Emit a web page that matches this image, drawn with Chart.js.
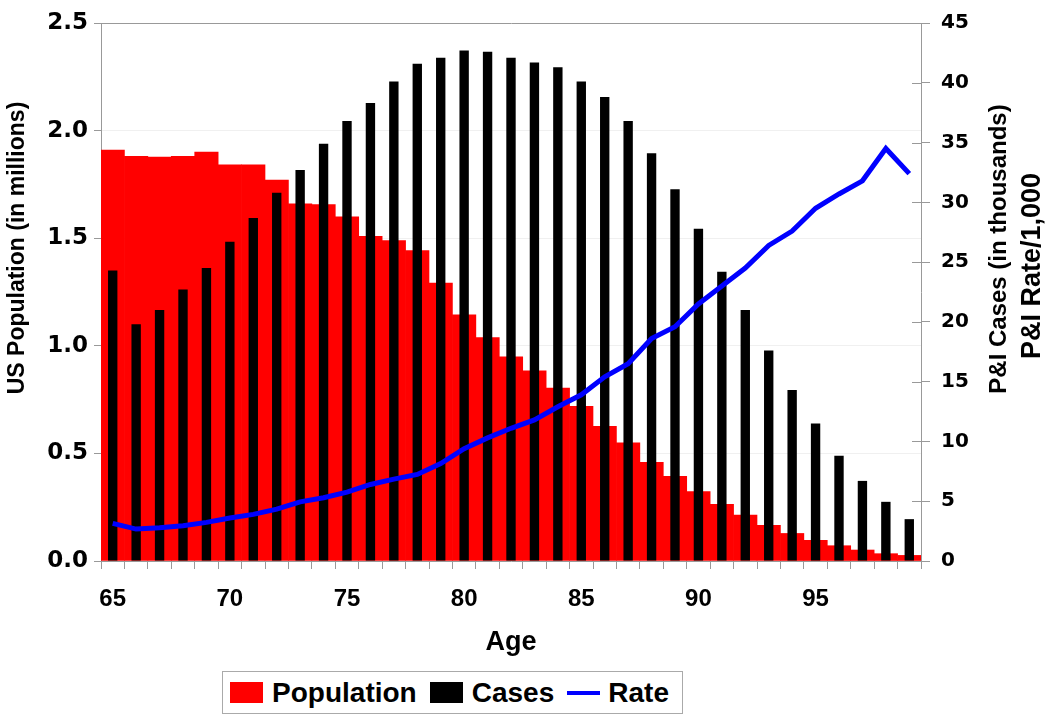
<!DOCTYPE html>
<html>
<head>
<meta charset="utf-8">
<script src="https://cdn.jsdelivr.net/npm/chart.js@4"></script>
<style>
  body { margin: 0; background: #fff; }
  #wrap { position: relative; width: 1050px; height: 722px; }
  #legend {
    position: absolute; left: 222px; top: 671px; width: 461px; height: 43px;
    box-sizing: border-box; border: 1px solid #aaa; background: #fff;
    display: flex; align-items: center; padding-left: 7px;
    font: bold 28px "Liberation Sans", Arial, sans-serif; color: #000;
  }
  #legend .sw { width: 36px; height: 21px; margin-right: 9px; }
  #legend .ln { width: 36px; height: 4px; margin-right: 8px; }
  #legend .tx { margin-right: 13px; }
</style>
</head>
<body>
<div id="wrap">
  <canvas id="chart" width="1050" height="722"></canvas>
  <div id="legend"></div>
</div>
<script>
var ages = [65, 66, 67, 68, 69, 70, 71, 72, 73, 74, 75, 76, 77, 78, 79, 80, 81, 82,
  83, 84, 85, 86, 87, 88, 89, 90, 91, 92, 93, 94, 95, 96, 97, 98, 99];

// US population, millions (left axis)
var population = [1.91, 1.88, 1.877, 1.88, 1.90, 1.841, 1.841, 1.77, 1.66, 1.656,
  1.599, 1.509, 1.489, 1.443, 1.291, 1.144, 1.038, 0.949, 0.884, 0.804, 0.719,
  0.626, 0.549, 0.458, 0.394, 0.323, 0.263, 0.213, 0.166, 0.128, 0.096, 0.071,
  0.051, 0.034, 0.026];

// P&I cases, thousands (right axis)
var cases = [24.3, 19.8, 21.0, 22.7, 24.5, 26.7, 28.7, 30.8, 32.7, 34.9, 36.8,
  38.3, 40.1, 41.6, 42.1, 42.7, 42.6, 42.1, 41.7, 41.3, 40.1, 38.8, 36.8, 34.1,
  31.1, 27.8, 24.2, 21.0, 17.6, 14.3, 11.5, 8.8, 6.7, 4.95, 3.5];

// P&I rate per 1,000 (right axis)
var rate = [3.15, 2.67, 2.78, 2.95, 3.23, 3.6, 3.9, 4.34, 4.95, 5.29, 5.76, 6.4,
  6.85, 7.24, 8.15, 9.4, 10.3, 11.1, 11.8, 12.9, 13.9, 15.4, 16.5, 18.6, 19.6,
  21.5, 23.0, 24.5, 26.4, 27.6, 29.5, 30.7, 31.8, 34.5, 32.4];

var leftTicks = [0, 0.5, 1.0, 1.5, 2.0, 2.5];
var rightTicks = [0, 5, 10, 15, 20, 25, 30, 35, 40, 45];

var axisGray = '#999999';

var sideTitles = {
  id: 'sideTitles',
  afterDraw: function(chart) {
    var ctx = chart.ctx;
    ctx.save();
    ctx.fillStyle = '#000';
    ctx.textAlign = 'center';
    ctx.textBaseline = 'middle';
    ctx.font = 'bold 23px "Liberation Sans", Arial, sans-serif';
    ctx.translate(18, 248);
    ctx.rotate(-Math.PI / 2);
    ctx.fillText('US Population (in millions)', 0, 0);
    ctx.restore();

    ctx.save();
    ctx.fillStyle = '#000';
    ctx.textAlign = 'center';
    ctx.textBaseline = 'middle';
    ctx.font = 'bold 24px "Liberation Sans", Arial, sans-serif';
    ctx.translate(999, 249);
    ctx.rotate(-Math.PI / 2);
    ctx.fillText('P&I Cases (in thousands)', 0, 0);
    ctx.restore();

    ctx.save();
    ctx.fillStyle = '#000';
    ctx.textAlign = 'center';
    ctx.textBaseline = 'middle';
    ctx.font = 'bold 27px "Liberation Sans", Arial, sans-serif';
    ctx.translate(1033, 266);
    ctx.rotate(-Math.PI / 2);
    ctx.fillText('P&I Rate/1,000', 0, 0);
    ctx.restore();

    // right axis ticks cross the axis line
    var y1 = chart.scales.y1;
    ctx.save();
    ctx.strokeStyle = axisGray;
    ctx.lineWidth = 1;
    y1.ticks.forEach(function(t) {
      var py = Math.round(y1.getPixelForValue(t.value)) + 0.5;
      ctx.beginPath();
      ctx.moveTo(y1.left - 9, py);
      ctx.lineTo(y1.left, py);
      ctx.stroke();
    });
    ctx.restore();
  }
};

var chart = new Chart(document.getElementById('chart').getContext('2d'), {
  type: 'bar',
  data: {
    labels: ages,
    datasets: [{
      label: 'Population',
      data: population,
      yAxisID: 'y',
      backgroundColor: '#ff0000',
      barPercentage: 1,
      categoryPercentage: 1,
      grouped: false,
      order: 3
    }, {
      label: 'Cases',
      data: cases,
      yAxisID: 'y1',
      backgroundColor: '#000000',
      barPercentage: 0.4,
      categoryPercentage: 1,
      grouped: false,
      order: 2
    }, {
      type: 'line',
      label: 'Rate',
      data: rate,
      yAxisID: 'y1',
      borderColor: '#0000ff',
      backgroundColor: '#0000ff',
      borderWidth: 5,
      pointRadius: 0,
      tension: 0,
      order: 1
    }]
  },
  options: {
    responsive: false,
    animation: false,
    layout: { padding: { top: 22, bottom: 60, left: 0, right: 0 } },
    plugins: {
      legend: { display: false },
      tooltip: { enabled: false }
    },
    scales: {
      x: {
        offset: true,
        grid: { offset: true, drawOnChartArea: false, tickLength: 8, color: axisGray },
        border: { color: axisGray },
        ticks: {
          autoSkip: false,
          maxRotation: 0,
          padding: 16,
          color: '#000',
          font: { family: '"Liberation Sans", Arial, sans-serif', weight: 'bold', size: 24 },
          callback: function(v, i) { return ages[i] % 5 === 0 ? String(ages[i]) : ''; }
        },
        title: {
          display: true,
          text: 'Age',
          color: '#000',
          padding: { top: 0, bottom: 3 },
          font: { family: '"Liberation Sans", Arial, sans-serif', weight: 'bold', size: 27 }
        },
        afterFit: function(s) { s.height = 101; }
      },
      y: {
        position: 'left',
        min: 0,
        max: 2.5,
        afterBuildTicks: function(s) { s.ticks = leftTicks.map(function(v) { return { value: v }; }); },
        grid: {
          tickLength: 7,
          tickColor: axisGray,
          color: function(c) { return c.tick && c.tick.value === 2.5 ? axisGray : '#f0f0f0'; }
        },
        border: { color: axisGray },
        ticks: {
          padding: 6,
          color: '#000',
          font: { family: '"DejaVu Sans", sans-serif', weight: 'bold', size: 23 },
          callback: function(v) { return Number(v).toFixed(1); }
        },
        afterFit: function(s) { s.width = 101; }
      },
      y1: {
        position: 'right',
        min: 0,
        max: 45,
        afterBuildTicks: function(s) { s.ticks = rightTicks.map(function(v) { return { value: v }; }); },
        grid: { drawOnChartArea: false, tickLength: 9, color: axisGray },
        border: { color: axisGray },
        ticks: {
          padding: 11,
          color: '#000',
          font: { family: '"DejaVu Sans", sans-serif', weight: 'bold', size: 20 }
        },
        afterFit: function(s) { s.width = 129; }
      }
    }
  },
  plugins: [sideTitles]
});

// legend built from the chart's datasets
var legend = document.getElementById('legend');
chart.data.datasets.forEach(function(ds) {
  var sw = document.createElement('div');
  sw.className = ds.type === 'line' ? 'ln' : 'sw';
  sw.style.background = ds.type === 'line' ? ds.borderColor : ds.backgroundColor;
  var tx = document.createElement('span');
  tx.className = 'tx';
  tx.textContent = ds.label;
  legend.appendChild(sw);
  legend.appendChild(tx);
});
</script>
</body>
</html>
